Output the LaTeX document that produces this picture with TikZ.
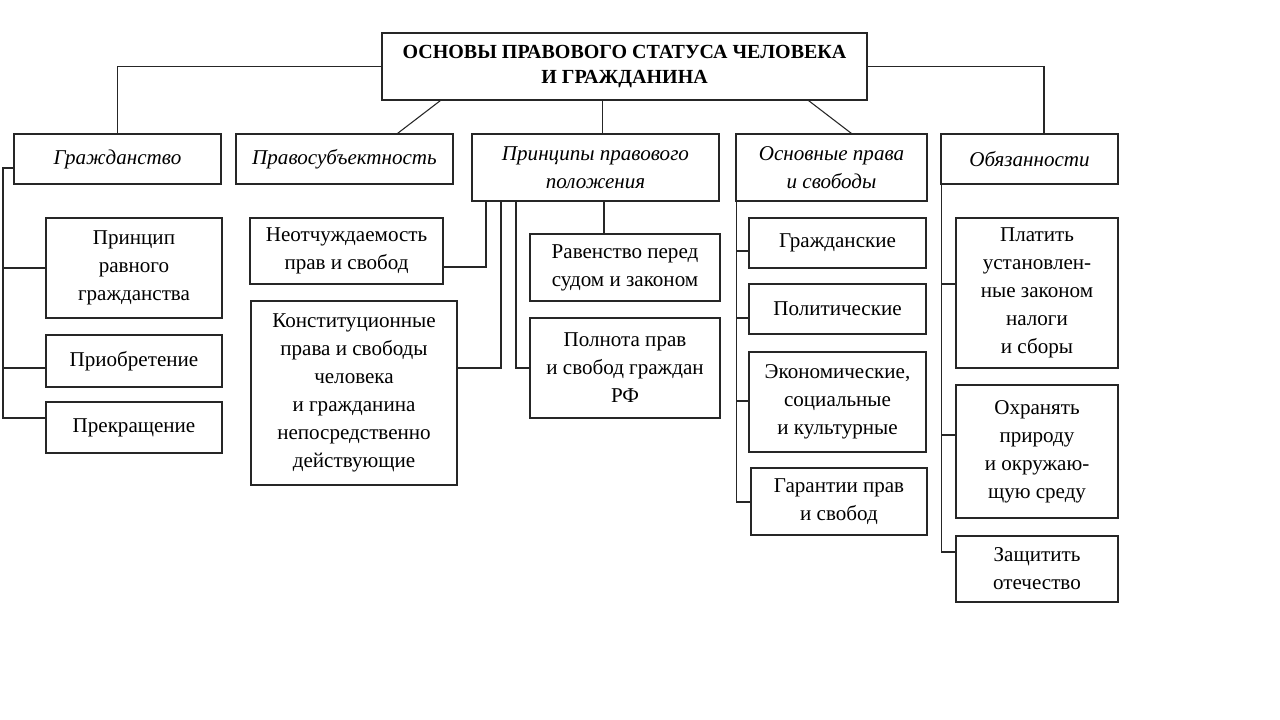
\documentclass[tikz,border=0pt]{standalone}
\usepackage{fontspec}
\setmainfont{Liberation Serif}
\usetikzlibrary{calc}
\tikzset{
  box/.style={draw=black!85, line width=0.8pt, align=center, inner sep=2pt, font=\fontsize{15.8}{21}\selectfont},
  ibox/.style={box, font=\fontsize{15.8}{21}\selectfont\itshape},
  sz/.style 2 args={minimum width=#1*0.75pt, minimum height=#2*0.75pt},
  ln/.style={draw=black!85, line width=0.8pt}
}
\begin{document}
\begin{tikzpicture}[x=0.75pt,y=-0.75pt]
\useasboundingbox (0,0) rectangle (1280,720);
\fill[white] (0,0) rectangle (1280,720);
% title
\node[box, sz={485}{67}, font=\fontsize{15}{19}\selectfont\bfseries] (top) at (624.5,66.5) {ОСНОВЫ ПРАВОВОГО СТАТУСА ЧЕЛОВЕКА\\И ГРАЖДАНИНА};
% level 2
\node[ibox, sz={207}{50}] (g)  at (117.5,159) {Гражданство};
\node[ibox, sz={217}{50}] (ps) at (344.5,159) {Правосубъектность};
\node[ibox, sz={247}{67}] (pr) at (595.5,167.5) {Принципы правового\\положения};
\node[ibox, sz={191}{67}] (os) at (831.5,167.5) {Основные права\\и свободы};
\node[ibox, sz={177}{50}] (ob) at (1029.5,159) {Обязанности};
% Гражданство children
\node[box, sz={176}{100}] (g1) at (134,268) {Принцип\\равного\\гражданства};
\node[box, sz={176}{52}]  (g2) at (134,361) {Приобретение};
\node[box, sz={176}{51}]  (g3) at (134,427.5) {Прекращение};
% Правосубъектность children
\node[box, sz={193}{66}]  (p1) at (346.5,251) {Неотчуждаемость\\прав и свобод};
\node[box, sz={206}{184}] (p2) at (354,393) {Конституционные\\права и свободы\\человека\\и гражданина\\непосредственно\\действующие};
% Принципы children
\node[box, sz={190}{67}]  (r1) at (625,267.5) {Равенство перед\\судом и законом};
\node[box, sz={190}{100}] (r2) at (625,368) {Полнота прав\\и свобод граждан\\РФ};
% Основные права children
\node[box, sz={177}{50}]  (o1) at (837.5,243) {Гражданские};
\node[box, sz={177}{50}]  (o2) at (837.5,309) {Политические};
\node[box, sz={177}{100}] (o3) at (837.5,402) {Экономические,\\социальные\\и культурные};
\node[box, sz={176}{67}]  (o4) at (839,501.5) {Гарантии прав\\и свобод};
% Обязанности children
\node[box, sz={162}{150}] (d1) at (1037,293) {Платить\\установлен-\\ные законом\\налоги\\и сборы};
\node[box, sz={162}{133}] (d2) at (1037,451.5) {Охранять\\природу\\и окружаю-\\щую среду};
\node[box, sz={162}{66}]  (d3) at (1037,569) {Защитить\\отечество};

% connectors from title
\draw[ln] (top.west) -| (g.north);
\draw[ln] (top.east) -| ([xshift=14.5*0.75pt]ob.north);
\draw[ln] ($(top.south west)+(59,0)$) -- ($(ps.north west)+(162,0)$);
\coordinate (tv) at ($(pr.north west)+(131,0)$);
\draw[ln] (tv) -- (tv |- top.south);
\draw[ln] ($(top.south west)+(427,0)$) -- ($(os.north west)+(116,0)$);

% Гражданство bus
\coordinate (gb0) at (3,168);
\coordinate (gb1) at (3,268);
\coordinate (gb2) at (3,368);
\coordinate (gb3) at (3,418);
\draw[ln] (g.west |- gb0) -- (gb0) -- (gb3) -- (gb3 -| g3.west);
\draw[ln] (gb1) -- (gb1 -| g1.west);
\draw[ln] (gb2) -- (gb2 -| g2.west);

% Принципы lines
\coordinate (pa) at (486,267);
\coordinate (pb) at (501,368);
\coordinate (pc) at (516,368);
\coordinate (pd) at (604,234);
\draw[ln] (pa |- pr.south) -- (pa) -- (pa -| p1.east);
\draw[ln] (pb |- pr.south) -- (pb) -- (pb -| p2.east);
\draw[ln] (pc |- pr.south) -- (pc) -- (pc -| r2.west);
\draw[ln] (pd |- pr.south) -- (pd |- r1.north);

% Основные права bus
\coordinate (ob1) at (736.5,251);
\coordinate (ob2) at (736.5,318);
\coordinate (ob3) at (736.5,401);
\coordinate (ob4) at (736.5,502);
\draw[ln] (ob1 |- os.south) -- (ob4) -- (ob4 -| o4.west);
\draw[ln] (ob1) -- (ob1 -| o1.west);
\draw[ln] (ob2) -- (ob2 -| o2.west);
\draw[ln] (ob3) -- (ob3 -| o3.west);

% Обязанности bus
\coordinate (db1) at (941.5,284);
\coordinate (db2) at (941.5,435);
\coordinate (db3) at (941.5,552);
\draw[ln] (db1 |- ob.south) -- (db3) -- (db3 -| d3.west);
\draw[ln] (db1) -- (db1 -| d1.west);
\draw[ln] (db2) -- (db2 -| d2.west);
\end{tikzpicture}
\end{document}
